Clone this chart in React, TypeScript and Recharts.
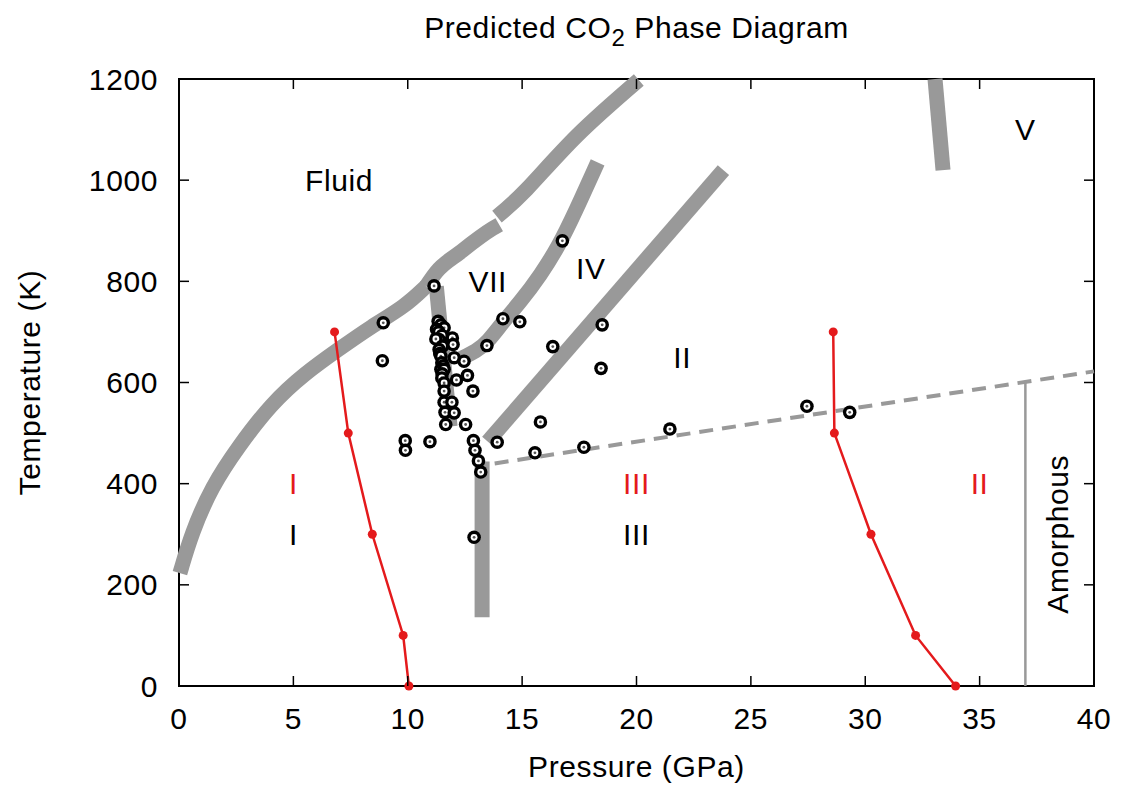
import React from 'react';
import { ComposedChart, Line, Scatter, XAxis, YAxis, ReferenceArea } from 'recharts';

// axis ticks
const pressureTicks = [0, 5, 10, 15, 20, 25, 30, 35, 40];
const temperatureTicks = [0, 200, 400, 600, 800, 1000, 1200];

// thick grey phase boundaries (p in GPa, t in K)
const meltLow = [
  { p: 0.04, t: 223 }, { p: 0.55, t: 302 }, { p: 1.43, t: 394 }, { p: 2.59, t: 473 },
  { p: 4.05, t: 559 }, { p: 5.5, t: 618 }, { p: 6.96, t: 665 }, { p: 8.41, t: 711 },
  { p: 9.87, t: 750 }, { p: 10.8, t: 790 },
];
const meltMid = [
  { p: 10.8, t: 790 }, { p: 11.26, t: 819 }, { p: 12.28, t: 857 }, { p: 13.7, t: 904 }, { p: 14.0, t: 912 },
];
const meltHigh = [
  { p: 13.9, t: 928 }, { p: 15.2, t: 982 }, { p: 17.4, t: 1088 }, { p: 20.1, t: 1198 },
];
const boundaryVIIandI = [{ p: 11.25, t: 790 }, { p: 11.85, t: 513 }];
const boundaryVIIandIV = [
  { p: 12.3, t: 647 }, { p: 13.0, t: 662 }, { p: 13.5, t: 680 }, { p: 14.2, t: 722 },
  { p: 14.9, t: 758 }, { p: 15.8, t: 812 }, { p: 16.6, t: 870 }, { p: 17.3, t: 935 }, { p: 18.3, t: 1035 },
];
const boundaryII = [{ p: 13.5, t: 483 }, { p: 23.8, t: 1020 }];
const boundaryIIIandI = [{ p: 13.25, t: 444 }, { p: 13.25, t: 136 }];
const boundaryV = [{ p: 33.05, t: 1200 }, { p: 33.4, t: 1020 }];
const dashedBoundary = [{ p: 13.8, t: 440 }, { p: 40, t: 622 }];
const amorphousLine = [{ p: 37, t: 0 }, { p: 37, t: 602 }];

// red experimental lines
const redLeft = [
  { p: 6.8, t: 700 }, { p: 7.4, t: 500 }, { p: 8.45, t: 300 }, { p: 9.8, t: 100 }, { p: 10.05, t: 0 },
];
const redRight = [
  { p: 28.6, t: 700 }, { p: 28.65, t: 500 }, { p: 30.25, t: 300 }, { p: 32.2, t: 100 }, { p: 33.95, t: 0 },
];

// simulation points
const simPoints = [
  { p: 8.93, t: 718 }, { p: 8.89, t: 643 }, { p: 11.15, t: 791 }, { p: 16.76, t: 880 },
  { p: 14.16, t: 726 }, { p: 14.9, t: 720 }, { p: 13.46, t: 673 }, { p: 16.34, t: 671 },
  { p: 18.5, t: 714 }, { p: 18.45, t: 628 }, { p: 13.91, t: 482 }, { p: 15.8, t: 522 },
  { p: 15.56, t: 461 }, { p: 17.7, t: 472 }, { p: 21.46, t: 508 }, { p: 27.45, t: 553 },
  { p: 29.32, t: 541 }, { p: 9.89, t: 485 }, { p: 9.9, t: 466 }, { p: 10.97, t: 483 },
  { p: 12.9, t: 294 }, { p: 12.87, t: 485 }, { p: 12.94, t: 466 }, { p: 13.09, t: 445 },
  { p: 13.19, t: 423 },
  { p: 11.33, t: 721 }, { p: 11.45, t: 714 }, { p: 11.59, t: 708 }, { p: 11.26, t: 705 },
  { p: 11.35, t: 700 }, { p: 11.5, t: 693 }, { p: 11.37, t: 685 }, { p: 11.23, t: 686 },
  { p: 11.95, t: 688 }, { p: 11.98, t: 675 }, { p: 11.52, t: 672 }, { p: 11.37, t: 665 },
  { p: 11.4, t: 657 }, { p: 11.45, t: 652 }, { p: 12.03, t: 649 }, { p: 12.46, t: 642 },
  { p: 11.49, t: 639 }, { p: 11.55, t: 633 }, { p: 11.45, t: 626 }, { p: 11.59, t: 626 },
  { p: 11.5, t: 617 }, { p: 12.61, t: 614 }, { p: 12.13, t: 605 }, { p: 11.49, t: 609 },
  { p: 11.59, t: 599 }, { p: 12.85, t: 583 }, { p: 11.59, t: 583 }, { p: 11.59, t: 561 },
  { p: 11.93, t: 561 }, { p: 11.63, t: 541 }, { p: 12.03, t: 540 }, { p: 11.66, t: 517 },
  { p: 12.53, t: 517 },
];

// phase names
const blackLabels = [
  { p: 7, t: 1000, text: 'Fluid' }, { p: 13.5, t: 800, text: 'VII' }, { p: 18, t: 825, text: 'IV' },
  { p: 22, t: 650, text: 'II' }, { p: 37, t: 1100, text: 'V' }, { p: 5, t: 300, text: 'I' },
  { p: 20, t: 300, text: 'III' },
];
const redLabels = [
  { p: 5, t: 400, text: 'I' }, { p: 20, t: 400, text: 'III' }, { p: 35, t: 400, text: 'II' },
];
const sideLabels = [{ p: 38.4, t: 300, text: 'Amorphous' }];

const FONT = '"Liberation Sans", Arial, Helvetica, sans-serif';
const PLOT = { left: 179, right: 1094, top: 79, bottom: 686 };
const GREY = '#999999';
const RED = '#e41a1c';

function PressureTick(props: any) {
  const { x, y, payload } = props;
  const inner = payload.value > 0 && payload.value < 40;
  return (
    <g>
      {inner && <line x1={x} x2={x} y1={PLOT.bottom} y2={PLOT.bottom - 10} stroke="#000" strokeWidth={1.5} />}
      {inner && <line x1={x} x2={x} y1={PLOT.top} y2={PLOT.top + 10} stroke="#000" strokeWidth={1.5} />}
      <text x={x} y={y} dy="0.71em" textAnchor="middle" fontFamily={FONT} fontSize={30} letterSpacing={0.6} fill="#000">
        {payload.value}
      </text>
    </g>
  );
}

function TemperatureTick(props: any) {
  const { x, y, payload } = props;
  const inner = payload.value > 0 && payload.value < 1200;
  return (
    <g>
      {inner && <line x1={PLOT.left} x2={PLOT.left + 10} y1={y} y2={y} stroke="#000" strokeWidth={1.5} />}
      {inner && <line x1={PLOT.right} x2={PLOT.right - 10} y1={y} y2={y} stroke="#000" strokeWidth={1.5} />}
      <text x={x} y={y} dy="0.355em" textAnchor="end" fontFamily={FONT} fontSize={30} letterSpacing={0.6} fill="#000">
        {payload.value}
      </text>
    </g>
  );
}

const renderMarker = (props: any) => (
  <g>
    <circle cx={props.cx} cy={props.cy} r={6.8} fill="#000" />
    <circle cx={props.cx} cy={props.cy} r={3.4} fill="#fff" />
    <circle cx={props.cx} cy={props.cy} r={1.4} fill="#555" />
  </g>
);

const labelShape = (color: string, angle = 0) => (props: any) => (
  <text
    x={props.cx}
    y={props.cy}
    dy="0.355em"
    textAnchor="middle"
    transform={angle ? `rotate(${angle} ${props.cx} ${props.cy})` : undefined}
    fontFamily={FONT}
    fontSize={30}
    letterSpacing={0.6}
    fill={color}
  >
    {props.payload.text}
  </text>
);

function greyLine(data: { p: number; t: number }[], width: number, curve: 'linear' | 'monotone' | 'natural' | 'basis' = 'linear', dash?: string) {
  return (
    <Line
      data={data}
      dataKey="t"
      type={curve}
      stroke={GREY}
      strokeWidth={width}
      strokeLinecap="butt"
      strokeDasharray={dash}
      dot={false}
      activeDot={false}
      isAnimationActive={false}
    />
  );
}

export default function App() {
  return (
    <div style={{ position: 'absolute', left: 0, top: 0, width: 1124, height: 789, background: '#fff' }}>
      <ComposedChart width={1124} height={789} margin={{ top: 79, right: 30, bottom: 0, left: 0 }}>
        <XAxis
          dataKey="p"
          type="number"
          domain={[0, 40]}
          ticks={pressureTicks}
          height={103}
          tickSize={0}
          tickMargin={22}
          axisLine={false}
          tickLine={false}
          tick={<PressureTick />}
        />
        <YAxis
          dataKey="t"
          type="number"
          domain={[0, 1200]}
          ticks={temperatureTicks}
          width={179}
          tickSize={0}
          tickMargin={21}
          axisLine={false}
          tickLine={false}
          tick={<TemperatureTick />}
        />
        <ReferenceArea x1={0} x2={40} y1={0} y2={1200} fill="none" fillOpacity={0} stroke="#000" strokeWidth={2} ifOverflow="visible" />
        {greyLine(meltLow, 15, 'basis')}
        {greyLine(meltMid, 15, 'monotone')}
        {greyLine(meltHigh, 15, 'natural')}
        {greyLine(boundaryVIIandI, 15)}
        {greyLine(boundaryVIIandIV, 15, 'basis')}
        {greyLine(boundaryII, 15)}
        {greyLine(boundaryIIIandI, 15)}
        {greyLine(boundaryV, 15)}
        {greyLine(dashedBoundary, 4, 'linear', '14 9')}
        {greyLine(amorphousLine, 2.5)}
        <Line data={redLeft} dataKey="t" type="linear" stroke={RED} strokeWidth={2.5}
          dot={{ r: 4.5, fill: RED, stroke: 'none' }} activeDot={false} isAnimationActive={false} />
        <Line data={redRight} dataKey="t" type="linear" stroke={RED} strokeWidth={2.5}
          dot={{ r: 4.5, fill: RED, stroke: 'none' }} activeDot={false} isAnimationActive={false} />
        <Scatter data={simPoints} dataKey="t" shape={renderMarker} isAnimationActive={false} />
        <Scatter data={blackLabels} dataKey="t" shape={labelShape('#000')} isAnimationActive={false} />
        <Scatter data={redLabels} dataKey="t" shape={labelShape(RED)} isAnimationActive={false} />
        <Scatter data={sideLabels} dataKey="t" shape={labelShape('#000', -90)} isAnimationActive={false} />
      </ComposedChart>
      <svg width={1124} height={789} style={{ position: 'absolute', left: 0, top: 0, pointerEvents: 'none' }}>
        <text x={636.5} y={38.3} textAnchor="middle" fontFamily={FONT} fontSize={30} letterSpacing={0.6} fill="#000">
          Predicted CO<tspan fontSize={24} dy={8}>2</tspan><tspan dy={-8}> Phase Diagram</tspan>
        </text>
        <text x={636.5} y={777} textAnchor="middle" fontFamily={FONT} fontSize={30} letterSpacing={0.6} fill="#000">
          Pressure (GPa)
        </text>
        <text x={29} y={382.5} dy="0.355em" transform="rotate(-90 29 382.5)" textAnchor="middle"
          fontFamily={FONT} fontSize={30} letterSpacing={0.6} fill="#000">
          Temperature (K)
        </text>
      </svg>
    </div>
  );
}
